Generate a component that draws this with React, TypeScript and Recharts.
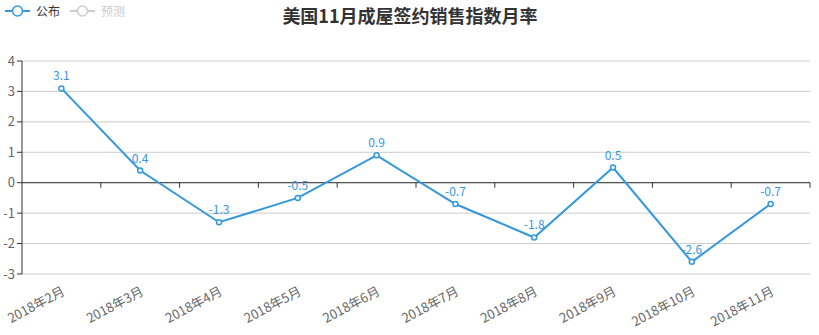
import { CartesianGrid, LabelList, Line, LineChart, ReferenceLine, XAxis, YAxis } from 'recharts';

// 月份（横軸カテゴリ）
const months = [
  '2018年2月',
  '2018年3月',
  '2018年4月',
  '2018年5月',
  '2018年6月',
  '2018年7月',
  '2018年8月',
  '2018年9月',
  '2018年10月',
  '2018年11月',
];

// 公布値（%）
const published = [3.1, 0.4, -1.3, -0.5, 0.9, -0.7, -1.8, 0.5, -2.6, -0.7];

const yTicks = [-3, -2, -1, 0, 1, 2, 3, 4];

const TITLE = '美国11月成屋签约销售指数月率';
const LEGEND_NAMES = ['公布', '预测'];

const BLUE = '#3498db';
const FONT = '"Noto Sans CJK SC", "Microsoft YaHei", sans-serif';

const CHART_W = 819;
const PLOT_LEFT = 22;
const PLOT_RIGHT_MARGIN = 9;
// カテゴリ中央に点を置くための半バンド幅
const HALF_BAND = (CHART_W - PLOT_LEFT - PLOT_RIGHT_MARGIN) / months.length / 2;

const data = months.map((m, i) => ({ month: m, value: published[i] }));

// 0 の位置に軸線と区切り目盛りを描く
function ZeroAxis(props: any) {
  const x1 = props.x1;
  const x2 = props.x2;
  const y = props.y1 ?? props.y;
  if (x1 == null || x2 == null || y == null) return null;
  const n = months.length;
  const step = (x2 - x1) / n;
  const ticks = [];
  for (let i = 1; i <= n; i++) {
    const x = x1 + step * i;
    ticks.push(<line key={i} x1={x} x2={x} y1={y} y2={y + 5} stroke="#333" strokeWidth={1} />);
  }
  return (
    <g>
      <line x1={x1} x2={x2} y1={y} y2={y} stroke="#333" strokeWidth={1} />
      {ticks}
    </g>
  );
}

function LegendIcon({ x, color }: { x: number; color: string }) {
  return (
    <g>
      <line x1={x} x2={x + 25} y1={11} y2={11} stroke={color} strokeWidth={2} />
      <circle cx={x + 12.5} cy={11} r={5} fill="#fff" stroke={color} strokeWidth={1.5} />
    </g>
  );
}

export default function App() {
  return (
    <div style={{ position: 'absolute', left: 0, top: 0, width: CHART_W, height: 335, fontFamily: FONT }}>
      <LineChart
        width={CHART_W}
        height={335}
        data={data}
        margin={{ top: 61, right: PLOT_RIGHT_MARGIN, bottom: 0, left: 0 }}
      >
        <CartesianGrid vertical={false} stroke="#ccc" strokeWidth={1} />
        <XAxis
          dataKey="month"
          height={61}
          axisLine={false}
          tickLine={false}
          interval={0}
          padding={{ left: HALF_BAND, right: HALF_BAND }}
          angle={-28}
          textAnchor="end"
          tickMargin={6}
          tick={{ fill: '#666', fontSize: 13, fontFamily: FONT }}
        />
        <YAxis
          width={PLOT_LEFT}
          domain={[-3, 4]}
          ticks={yTicks}
          interval={0}
          allowDataOverflow
          axisLine={{ stroke: '#333' }}
          tickLine={{ stroke: '#333' }}
          tickSize={5}
          tickMargin={2}
          tick={{ fill: '#666', fontSize: 13, fontFamily: FONT }}
        />
        <ReferenceLine y={0} ifOverflow="visible" shape={ZeroAxis} />
        <Line
          type="linear"
          dataKey="value"
          stroke={BLUE}
          strokeWidth={2}
          dot={{ r: 2.5, fill: '#fff', stroke: BLUE, strokeWidth: 1.5 }}
          isAnimationActive={false}
        >
          <LabelList dataKey="value" position="top" offset={8} fill={BLUE} fontSize={12} fontFamily={FONT} />
        </Line>
        <text
          x={410}
          y={23}
          textAnchor="middle"
          fontSize={18}
          fontWeight="bold"
          fill="#333"
          fontFamily={FONT}
        >
          {TITLE}
        </text>
        <LegendIcon x={5} color={BLUE} />
        <text x={36} y={15.5} fontSize={12} fill="#333" fontFamily={FONT}>
          {LEGEND_NAMES[0]}
        </text>
        <LegendIcon x={70} color="#ccc" />
        <text x={101} y={15.5} fontSize={12} fill="#ccc" fontFamily={FONT}>
          {LEGEND_NAMES[1]}
        </text>
      </LineChart>
    </div>
  );
}
